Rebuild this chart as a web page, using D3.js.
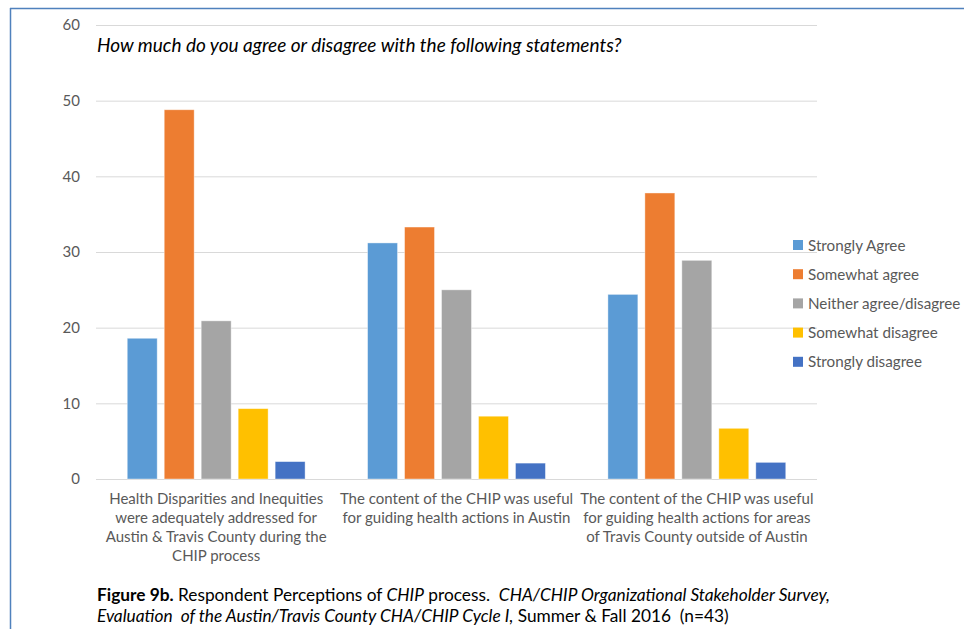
<!DOCTYPE html>
<html>
<head>
<meta charset="utf-8">
<script src="https://cdn.jsdelivr.net/npm/d3@7"></script>
<style>
  body { margin: 0; background: #fff; }
  text { font-family: Lato, 'Open Sans', sans-serif; white-space: pre; }
</style>
</head>
<body>
<svg id="chart" width="964" height="629"></svg>
<script>

// data (percent of respondents)
var categories = [
  [ 'Health Disparities and Inequities', 'were adequately addressed for', 'Austin & Travis County during the', 'CHIP process' ],
  [ 'The content of the CHIP was useful', 'for guiding health actions in Austin' ],
  [ 'The content of the CHIP was useful', 'for guiding health actions for areas', 'of Travis County outside of Austin' ]
];
var seriesNames = [ 'Strongly Agree', 'Somewhat agree', 'Neither agree/disagree', 'Somewhat disagree', 'Strongly disagree' ];
var stronglyAgree = [ 18.6, 31.2, 24.4 ];
var somewhatAgree = [ 48.8, 33.3, 37.8 ];
var neither = [ 20.9, 25.0, 28.9 ];
var somewhatDisagree = [ 9.3, 8.3, 6.7 ];
var stronglyDisagree = [ 2.3, 2.1, 2.2 ];
var yTicks = [ 0, 10, 20, 30, 40, 50, 60 ];
var colors = [ '#5b9bd5', '#ed7d31', '#a5a5a5', '#ffc000', '#4472c4' ];

var svg = d3.select( '#chart' ),
  margin = { top: 25, right: 147, bottom: 150, left: 96 },
  width = +svg.attr( 'width' ),
  height = +svg.attr( 'height' );

var series = [ stronglyAgree, somewhatAgree, neither, somewhatDisagree, stronglyDisagree ];
var groups = categories.map( ( c, i ) => ( {
  id: i,
  values: series.map( ( s, j ) => ( { key: seriesNames[ j ], value: s[ i ] } ) )
} ) );

// frame lines of the page
svg.append( 'line' )
  .attr( 'x1', 10 ).attr( 'x2', width ).attr( 'y1', 8.5 ).attr( 'y2', 8.5 )
  .style( 'stroke', '#4f81bd' ).attr( 'stroke-width', 1.5 );
svg.append( 'line' )
  .attr( 'x1', 10.5 ).attr( 'x2', 10.5 ).attr( 'y1', 8 ).attr( 'y2', height )
  .style( 'stroke', '#4f81bd' ).attr( 'stroke-width', 1.5 );

var x0 = d3.scaleBand()
  .domain( groups.map( d => d.id ) )
  .range( [ margin.left, width - margin.right ] )
  .paddingInner( 0.26 )
  .paddingOuter( 0.13 );

var x1 = d3.scaleBand()
  .domain( seriesNames )
  .range( [ 0, x0.bandwidth() ] )
  .paddingInner( 0.19 );

var y = d3.scaleLinear()
  .domain( [ 0, 60 ] )
  .range( [ height - margin.bottom, margin.top ] );

var z = d3.scaleOrdinal()
  .domain( seriesNames )
  .range( colors );

// gridlines + y labels
var yAxis = svg.append( 'g' )
  .attr( 'class', 'y-axis' )
  .attr( 'transform', 'translate(' + margin.left + ',0)' )
  .call( d3.axisLeft( y ).tickValues( yTicks ).tickSize( -( width - margin.right - margin.left ) ).tickPadding( 16 ) );

yAxis.select( '.domain' ).remove();
yAxis.selectAll( '.tick line' )
  .style( 'stroke', '#d9d9d9' )
  .attr( 'stroke-width', 1 );
yAxis.selectAll( '.tick text' )
  .style( 'fill', '#595959' )
  .style( 'font-size', '15px' );

// bars
var group = svg.selectAll( '.group' )
  .data( groups )
  .enter().append( 'g' )
    .attr( 'class', 'group' )
    .attr( 'transform', d => 'translate(' + x0( d.id ) + ',0)' );

group.selectAll( 'rect' )
  .data( d => d.values )
  .enter().append( 'rect' )
    .attr( 'x', d => x1( d.key ) )
    .attr( 'y', d => y( d.value ) )
    .attr( 'width', x1.bandwidth() )
    .attr( 'height', d => y( 0 ) - y( d.value ) )
    .style( 'fill', d => z( d.key ) )
    .style( 'stroke', '#fff' )
    .style( 'stroke-opacity', 0.5 )
    .attr( 'stroke-width', 0.8 );

// category labels
var catLabels = svg.append( 'g' )
  .attr( 'class', 'x-axis' )
  .selectAll( 'text' )
  .data( categories )
  .enter().append( 'text' )
    .attr( 'x', ( d, i ) => x0( i ) + x0.bandwidth() / 2 )
    .attr( 'y', y( 0 ) + 25 )
    .attr( 'text-anchor', 'middle' )
    .style( 'font-size', '15px' )
    .style( 'fill', '#595959' );

catLabels.selectAll( 'tspan' )
  .data( d => d )
  .enter().append( 'tspan' )
    .attr( 'x', function() { return d3.select( this.parentNode ).attr( 'x' ); } )
    .attr( 'dy', ( d, i ) => i === 0 ? 0 : 19 )
    .text( d => d );

// question text
svg.append( 'text' )
  .attr( 'x', 97 )
  .attr( 'y', 52 )
  .style( 'font-size', '19px' )
  .style( 'font-style', 'italic' )
  .style( 'fill', '#000' )
  .text( 'How much do you agree or disagree with the following statements?' );

/* Legend */

var legend = svg.append( 'g' )
  .attr( 'class', 'legend' )
  .selectAll( 'g' )
  .data( seriesNames )
  .enter().append( 'g' )
    .attr( 'transform', ( d, i ) => 'translate(793,' + ( 240 + i * 29.2 ) + ')' );

legend.append( 'rect' )
  .attr( 'width', 10 )
  .attr( 'height', 10 )
  .style( 'fill', d => z( d ) );

legend.append( 'text' )
  .attr( 'x', 15 )
  .attr( 'y', 10.5 )
  .style( 'font-size', '15.2px' )
  .style( 'fill', '#595959' )
  .text( d => d );

/* Caption */

var cap1 = svg.append( 'text' )
  .attr( 'x', 97 )
  .attr( 'y', 601 )
  .style( 'font-size', '17.3px' )
  .style( 'fill', '#000' );
cap1.append( 'tspan' ).style( 'font-weight', 'bold' ).text( 'Figure 9b.' );
cap1.append( 'tspan' ).text( ' Respondent Perceptions of ' );
cap1.append( 'tspan' ).style( 'font-style', 'italic' ).text( 'CHIP' );
cap1.append( 'tspan' ).text( ' process.  ' );
cap1.append( 'tspan' ).style( 'font-style', 'italic' ).text( 'CHA/CHIP Organizational Stakeholder Survey,' );

var cap2 = svg.append( 'text' )
  .attr( 'x', 97 )
  .attr( 'y', 622 )
  .style( 'font-size', '17.3px' )
  .style( 'fill', '#000' );
cap2.append( 'tspan' ).style( 'font-style', 'italic' ).text( 'Evaluation  of the Austin/Travis County CHA/CHIP Cycle I,' );
cap2.append( 'tspan' ).text( ' Summer & Fall 2016  (n=43)' );

</script>
</body>
</html>
